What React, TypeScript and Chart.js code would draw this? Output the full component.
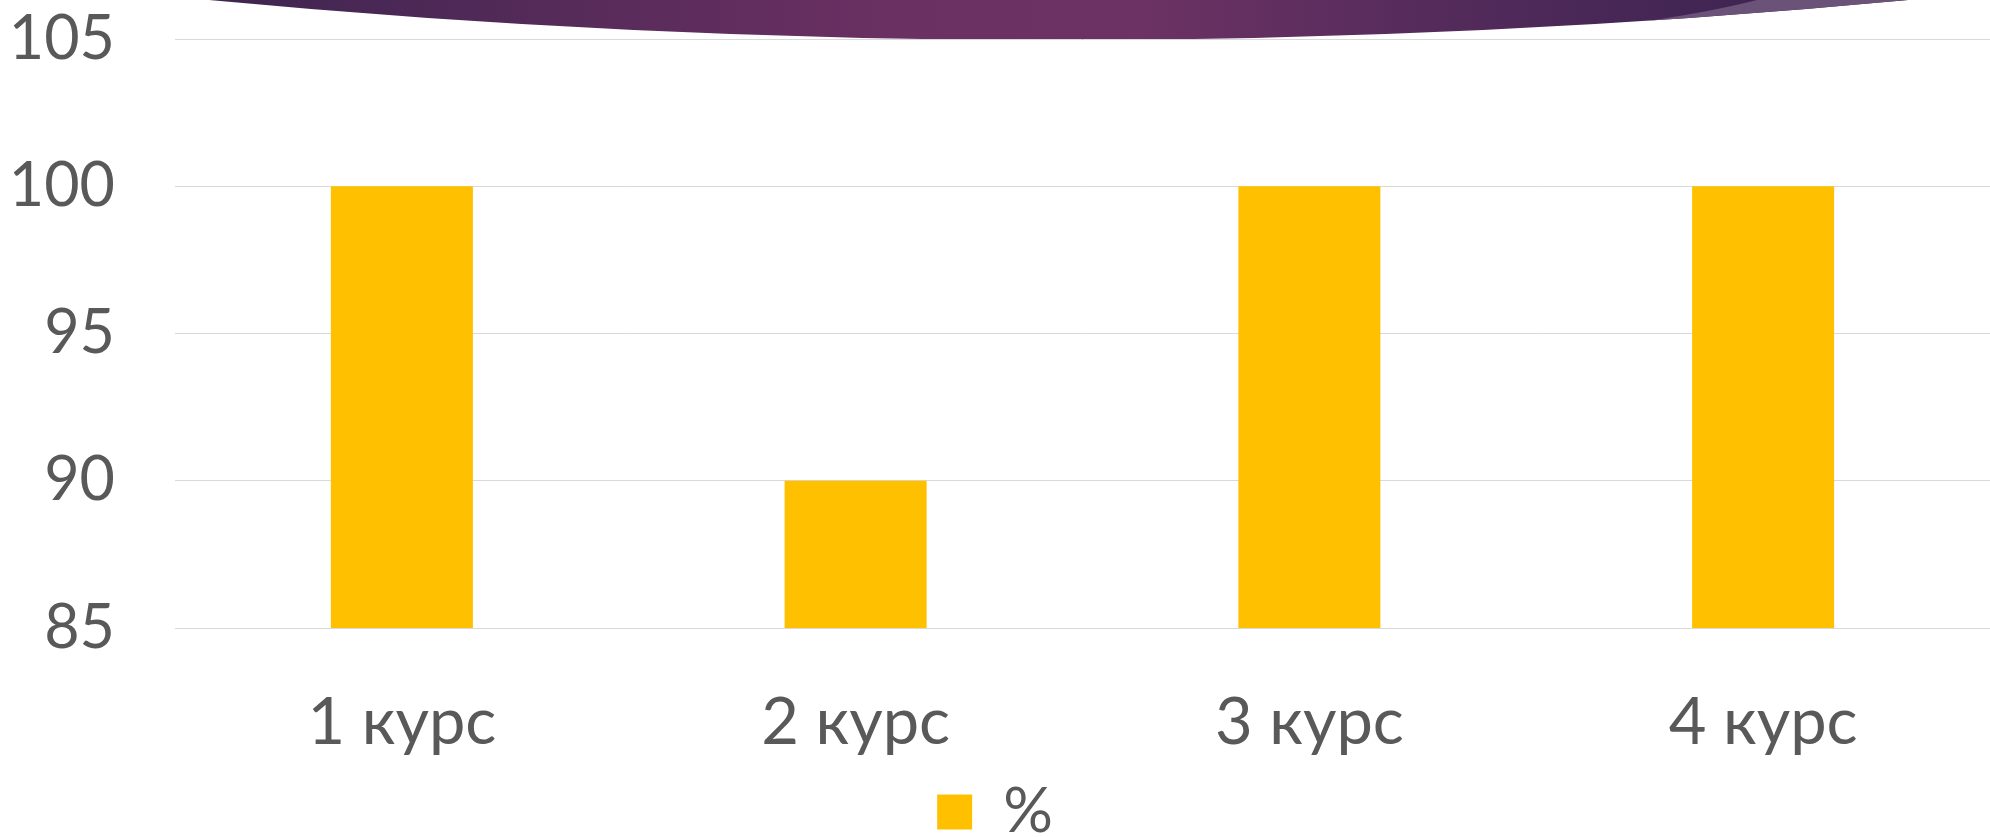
import React, { useEffect, useRef } from "react";
import { Chart, registerables } from "chart.js";

Chart.register(...registerables);

const categories = ["1 курс", "2 курс", "3 курс", "4 курс"];
const seriesName = "%";
const seriesValues = [100, 90, 100, 100];
const yTickValues = [85, 90, 95, 100, 105];

const FONT = "Lato, 'Noto Sans', sans-serif";
const TEXT = "#595959";

const swooshPlugin = {
  id: "swoosh",
  beforeDraw(chart: any) {
    const ctx = chart.ctx as CanvasRenderingContext2D;
    ctx.save();
    const path = new Path2D();
    path.moveTo(209, 0);
    path.quadraticCurveTo(1058, 80, 1908, 0);
    path.closePath();
    const g = ctx.createLinearGradient(209, 0, 1908, 0);
    g.addColorStop(0, "#3f2550");
    g.addColorStop(0.4, "#6a3062");
    g.addColorStop(0.55, "#6b3263");
    g.addColorStop(0.8, "#4a2858");
    g.addColorStop(0.92, "#3f2450");
    g.addColorStop(1, "#3f2450");
    ctx.fillStyle = g;
    ctx.fill(path);
    ctx.clip(path);
    ctx.beginPath();
    ctx.moveTo(1757, 0);
    ctx.quadraticCurveTo(1670, 22, 1520, 36);
    ctx.lineTo(1990, 50);
    ctx.lineTo(1990, 0);
    ctx.closePath();
    ctx.fillStyle = "#6a5279";
    ctx.fill();
    ctx.restore();
  },
};

export default function App() {
  const ref = useRef<HTMLCanvasElement | null>(null);

  useEffect(() => {
    if (!ref.current) return;
    const chart = new Chart(ref.current, {
      type: "bar",
      data: {
        labels: categories,
        datasets: [
          {
            label: seriesName,
            data: seriesValues,
            backgroundColor: "#FFC000",
            borderWidth: 0,
            categoryPercentage: 1,
            barPercentage: 0.313,
          },
        ],
      },
      options: {
        responsive: false,
        animation: false,
        devicePixelRatio: 1,
        layout: { padding: { top: 39, bottom: 0, left: 0, right: 0 } },
        plugins: {
          legend: {
            position: "bottom",
            labels: {
              boxWidth: 35,
              boxHeight: 35,
              padding: 10,
              color: TEXT,
              font: { family: FONT, size: 62, weight: "400" },
            },
          },
          tooltip: { enabled: false },
        },
        scales: {
          x: {
            grid: { display: false },
            border: { display: false },
            ticks: {
              color: TEXT,
              padding: 48,
              font: { family: FONT, size: 65, weight: "400" },
            },
            afterFit: (s: any) => {
              s.height = 143;
              s.paddingLeft = 0;
              s.paddingRight = 0;
            },
          },
          y: {
            min: 85,
            max: 105,
            grid: { color: "#d9d9d9", lineWidth: 1, drawTicks: false },
            border: { display: false },
            ticks: {
              color: TEXT,
              padding: 60,
              font: { family: FONT, size: 61, weight: "400" },
            },
            afterBuildTicks: (s: any) => {
              s.ticks = yTickValues.map((v) => ({ value: v }));
            },
            afterFit: (s: any) => {
              s.width = 175;
              s.paddingTop = 0;
              s.paddingBottom = 0;
            },
          },
        },
      },
      plugins: [swooshPlugin],
    });
    return () => chart.destroy();
  }, []);

  return (
    <div style={{ position: "absolute", left: 0, top: 0, width: 1990, height: 837, overflow: "hidden", background: "#fff" }}>
      <canvas ref={ref} width={1990} height={853} style={{ display: "block" }} />
    </div>
  );
}
